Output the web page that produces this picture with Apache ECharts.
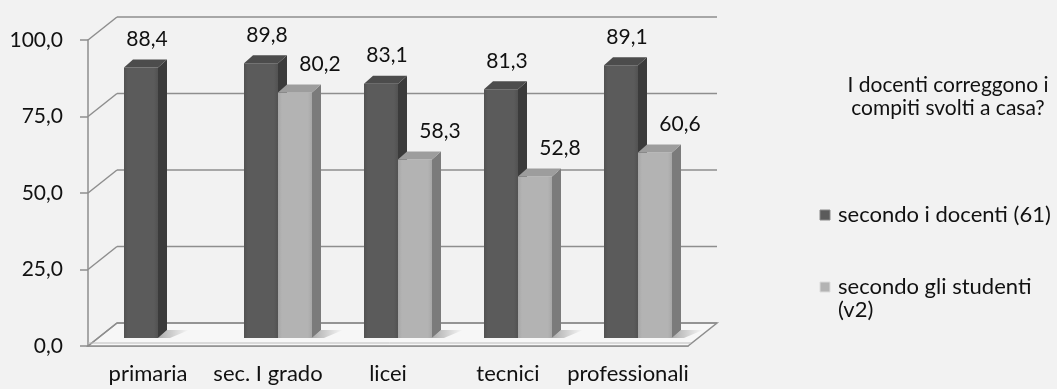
<!DOCTYPE html>
<html>
<head>
<meta charset="utf-8">
<script src="https://cdn.jsdelivr.net/npm/echarts@6/dist/echarts.min.js"></script>
<style>
  html, body { margin: 0; padding: 0; background: #f2f2f2; }
  #chart { width: 1057px; height: 389px; }
</style>
</head>
<body>
<div id="chart"></div>
<script>
// Data
const categories = ['primaria', 'sec. I grado', 'licei', 'tecnici', 'professionali'];
const docenti = [88.4, 89.8, 83.1, 81.3, 89.1];
const studenti = [null, 80.2, 58.3, 52.8, 60.6];
const yTicks = [0, 25, 50, 75, 100];
const seriesNames = ['secondo i docenti (61)', 'secondo gli studenti'];
const seriesNameTail = '(v2)';
const titleLines = ['I docenti correggono i', 'compiti svolti a casa?'];

// Pseudo-3D geometry (pixels)
const WALL_DX = 29, WALL_DY = -23;   // depth of the floor / back wall
const BAR_DX = 10, BAR_DY = -8;      // plane where the bars stand
const BAR_W = 34;                    // bar front width
const BAR_DEPTH_X = 9, BAR_DEPTH_Y = -8;
const GRID_COLOR = '#8e8e8e';
const FONT = 'Lato, "Open Sans", sans-serif';

const palettes = [
  { front: '#5b5b5b', frontEdge: '#525252', side: '#3b3b3b', top: '#4c4c4c' },
  { front: '#b3b3b3', frontEdge: '#a7a7a7', side: '#7b7b7b', top: '#9d9d9d' }
];
const labelShift = [6, 25];

const fmt = v => v.toFixed(1).replace('.', ',');

function wallItem(params, api) {
  const cs = params.coordSys;
  const v = api.value(1);
  const y = api.coord([0, v])[1];
  const xl = cs.x, xr = cs.x + cs.width;
  const children = [
    { type: 'line', shape: { x1: xl, y1: y, x2: xl + WALL_DX, y2: y + WALL_DY },
      style: { stroke: GRID_COLOR, lineWidth: 1.5 } },
    { type: 'line', shape: { x1: xl + WALL_DX, y1: y + WALL_DY, x2: xr + WALL_DX, y2: y + WALL_DY },
      style: { stroke: GRID_COLOR, lineWidth: 1.5 } }
  ];
  if (v === 0) {
    children.unshift({
      type: 'polygon',
      shape: { points: [[xl, y], [xl + WALL_DX, y + WALL_DY], [xr + WALL_DX, y + WALL_DY], [xr, y]] },
      style: { fill: '#f7f7f7', stroke: GRID_COLOR, lineWidth: 1.5 }
    });
    children.push({
      type: 'line', shape: { x1: xl, y1: y - 3, x2: xr + 3, y2: y - 3 },
      style: { stroke: '#bdbdbd', lineWidth: 1 }
    });
  }
  return { type: 'group', children };
}

function barRenderer(seriesIndex) {
  const pal = palettes[seriesIndex];
  return function (params, api) {
    const v = api.value(1);
    if (v == null || isNaN(v)) return;
    const idx = api.value(0);
    const base = api.coord([idx, 0]);
    const top = api.coord([idx, v]);
    const cx = base[0] + BAR_DX;
    const x0 = seriesIndex === 0 ? cx - BAR_W : cx;
    const x1 = x0 + BAR_W;
    const yb = base[1] + BAR_DY;
    const yt = top[1] + BAR_DY;
    const dx = BAR_DEPTH_X, dy = BAR_DEPTH_Y;
    return {
      type: 'group',
      children: [
        // soft floor shadow to the right of the base
        { type: 'polygon',
          shape: { points: [[x1, yb], [x1 + dx, yb + dy], [x1 + dx + 22, yb + dy], [x1 + 12, yb]] },
          style: { fill: { type: 'linear', x: 0, y: 0, x2: 1, y2: 0,
            colorStops: [{ offset: 0, color: 'rgba(0,0,0,0.3)' }, { offset: 1, color: 'rgba(0,0,0,0)' }] } } },
        // front face
        { type: 'rect', shape: { x: x0, y: yt, width: BAR_W, height: yb - yt },
          style: { fill: { type: 'linear', x: 0, y: 0, x2: 1, y2: 0,
            colorStops: [{ offset: 0, color: pal.frontEdge }, { offset: 0.12, color: pal.front },
                         { offset: 0.88, color: pal.front }, { offset: 1, color: pal.frontEdge }] } } },
        // side face
        { type: 'polygon',
          shape: { points: [[x1, yt], [x1 + dx, yt + dy], [x1 + dx, yb + dy], [x1, yb]] },
          style: { fill: pal.side } },
        // top face
        { type: 'polygon',
          shape: { points: [[x0, yt], [x0 + dx, yt + dy], [x1 + dx, yt + dy], [x1, yt]] },
          style: { fill: pal.top } },
        // value label
        { type: 'text',
          style: { x: (x0 + x1) / 2 + labelShift[seriesIndex], y: yt - 28, text: fmt(v),
            align: 'center', verticalAlign: 'middle', fill: '#111',
            font: '21px ' + FONT } }
      ]
    };
  };
}

const chart = echarts.init(document.getElementById('chart'), null, { renderer: 'canvas' });

chart.setOption({
  backgroundColor: '#f2f2f2',
  animation: false,
  grid: { left: 88, right: 369, top: 40, bottom: 43 },
  xAxis: {
    type: 'category',
    data: categories,
    axisLine: { show: true, lineStyle: { color: GRID_COLOR, width: 1.5 } },
    axisTick: { show: false },
    axisLabel: { color: '#111', fontFamily: FONT, fontSize: 22, margin: 17, interval: 0 }
  },
  yAxis: {
    type: 'value',
    min: 0, max: 100, interval: 25,
    axisLine: { show: true, lineStyle: { color: GRID_COLOR, width: 1.5 } },
    axisTick: { show: true, length: 8, lineStyle: { color: GRID_COLOR, width: 1.5 } },
    splitLine: { show: false },
    axisLabel: { color: '#111', fontFamily: FONT, fontSize: 21, margin: 25, formatter: v => fmt(v) }
  },
  series: [
    { type: 'custom', name: 'walls', z: 1, silent: true,
      data: yTicks.map(v => [0, v]), renderItem: wallItem, encode: { x: 0, y: 1 } },
    { type: 'custom', name: seriesNames[0], z: 3,
      data: docenti.map((v, i) => [i, v]), renderItem: barRenderer(0), encode: { x: 0, y: 1 } },
    { type: 'custom', name: seriesNames[1], z: 4,
      data: studenti.map((v, i) => [i, v]), renderItem: barRenderer(1), encode: { x: 0, y: 1 } }
  ],
  graphic: [
    { type: 'text',
      style: { x: 948, y: 97, text: titleLines.join('\n'), align: 'center', verticalAlign: 'middle',
        lineHeight: 23, fill: '#111', font: '21px ' + FONT } },
    { type: 'rect', shape: { x: 820, y: 210, width: 10, height: 10 },
      style: { fill: palettes[0].front, stroke: '#8a8a8a', lineWidth: 1 } },
    { type: 'text', style: { x: 838, y: 215, text: seriesNames[0], verticalAlign: 'middle',
        fill: '#111', font: '22px ' + FONT } },
    { type: 'rect', shape: { x: 820, y: 282, width: 10, height: 10 },
      style: { fill: palettes[1].front, stroke: '#dcdcdc', lineWidth: 1 } },
    { type: 'text', style: { x: 838, y: 287, text: seriesNames[1], verticalAlign: 'middle',
        fill: '#111', font: '22px ' + FONT } },
    { type: 'text', style: { x: 838, y: 310, text: seriesNameTail, verticalAlign: 'middle',
        fill: '#111', font: '22px ' + FONT } }
  ]
});
</script>
</body>
</html>
